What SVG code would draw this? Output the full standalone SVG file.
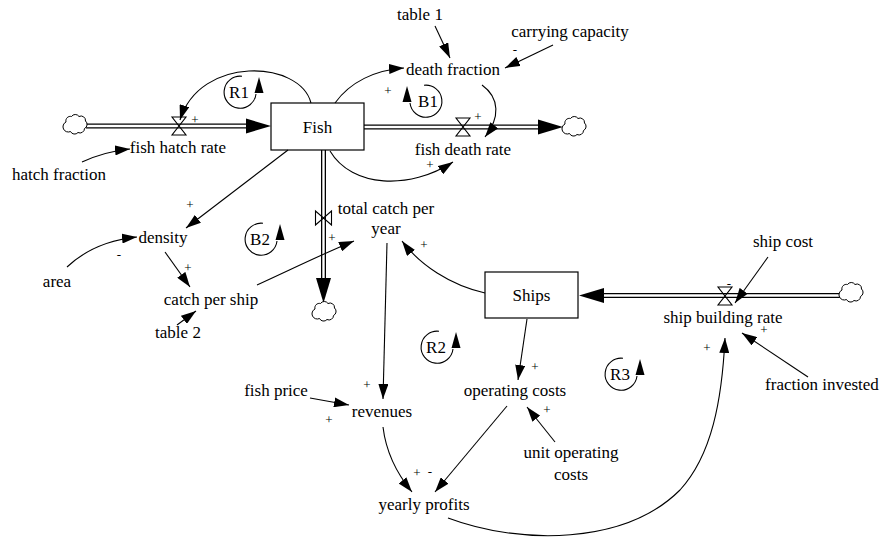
<svg xmlns="http://www.w3.org/2000/svg" width="882" height="540" viewBox="0 0 882 540" font-family="'Liberation Serif', 'DejaVu Serif', serif">
<style>
  .lbl { font-size: 17px; text-anchor: middle; }
  .pol { font-size: 13px; text-anchor: middle; }
  .lp { font-size: 17px; text-anchor: middle; }
  .link { fill: none; stroke: #000; stroke-width: 1.1; marker-end: url(#arr); }
  .box { fill: #fff; stroke: #000; stroke-width: 1.2; }
  .pipeO { stroke: #000; stroke-width: 5; fill: none; }
  .pipeI { stroke: #fff; stroke-width: 2.4; fill: none; }
  .valve { fill: none; stroke: #000; stroke-width: 1.1; }
  .cloud { fill: #fff; stroke: #000; stroke-width: 1; }
  .arc { fill: none; stroke: #000; stroke-width: 1.1; }
</style>
<defs>
  <marker id="arr" markerUnits="userSpaceOnUse" markerWidth="15" markerHeight="10" viewBox="0 0 15 10" refX="15" refY="5" orient="auto">
    <path d="M0,0 L15,5 L0,10 z" fill="#000"/>
  </marker>
  <path id="cloud" class="cloud" d="M-10,-3 a4.5,4.5 0 0 1 5.5,-5.5 a4.5,4.5 0 0 1 7.5,0 a4.5,4.5 0 0 1 6.5,4.5 a4.5,4.5 0 0 1 -1,7.5 a4.5,4.5 0 0 1 -6.5,4 a4.5,4.5 0 0 1 -7.5,-1 a4.5,4.5 0 0 1 -4.5,-9.5 z"/>
  <path id="valveV" class="valve" d="M-7,-9 L7,-9 L-7,9 L7,9 Z"/>
  <path id="valveH" class="valve" d="M-8,-7 L-8,7 L8,-7 L8,7 Z"/>
  <g id="loopR">
    <path class="arc" d="M3,-15.7 A16,16 0 1 0 17,2"/>
    <path d="M20,-15 L24.5,1 L15.5,1 z" fill="#000"/>
  </g>
</defs>

<!-- flows (pipes) -->
<g id="flows">
  <line class="pipeO" x1="86" y1="126" x2="250" y2="126"/>
  <line class="pipeI" x1="86" y1="126" x2="250" y2="126"/>
  <path d="M271,126 L246,118.5 L246,133.5 z" fill="#000"/>

  <line class="pipeO" x1="364" y1="127" x2="540" y2="127"/>
  <line class="pipeI" x1="364" y1="127" x2="540" y2="127"/>
  <path d="M563,127 L538,119.5 L538,134.5 z" fill="#000"/>

  <line class="pipeO" x1="323.5" y1="150" x2="323.5" y2="281"/>
  <line class="pipeI" x1="323.5" y1="150" x2="323.5" y2="281"/>
  <path d="M323.5,303 L316,278 L331,278 z" fill="#000"/>

  <line class="pipeO" x1="841" y1="295.5" x2="602" y2="295.5"/>
  <line class="pipeI" x1="841" y1="295.5" x2="602" y2="295.5"/>
  <path d="M579,295.5 L604,288 L604,303 z" fill="#000"/>

  <use href="#cloud" x="76" y="125"/>
  <use href="#cloud" x="575" y="127"/>
  <use href="#cloud" x="325" y="312"/>
  <use href="#cloud" x="852" y="293"/>
</g>

<!-- stocks -->
<g id="Fish">
  <rect class="box" x="271" y="103" width="93" height="47"/>
  <text class="lbl" x="317.5" y="133" font-family="Liberation Serif">Fish</text>
</g>
<g id="Ships">
  <rect class="box" x="485" y="272" width="93" height="46"/>
  <text class="lbl" x="531.5" y="301">Ships</text>
</g>

<!-- rates -->
<g id="fish-hatch-rate">
  <use href="#valveV" x="179" y="126"/>
  <text class="lbl" x="178" y="153">fish hatch rate</text>
</g>
<g id="fish-death-rate">
  <use href="#valveV" x="463" y="127"/>
  <text class="lbl" x="463" y="155">fish death rate</text>
</g>
<g id="total-catch-per-year">
  <use href="#valveH" x="323.5" y="218"/>
  <text class="lbl" x="386" y="214">total catch per</text>
  <text class="lbl" x="386" y="234">year</text>
</g>
<g id="ship-building-rate">
  <use href="#valveV" x="725" y="296"/>
  <text class="lbl" x="723" y="323">ship building rate</text>
</g>

<!-- auxiliaries -->
<g id="hatch-fraction"><text class="lbl" x="59" y="180">hatch fraction</text></g>
<g id="death-fraction"><text class="lbl" x="453" y="75">death fraction</text></g>
<g id="table-1"><text class="lbl" x="420" y="20">table 1</text></g>
<g id="carrying-capacity"><text class="lbl" x="570" y="37">carrying capacity</text></g>
<g id="density"><text class="lbl" x="163" y="243">density</text></g>
<g id="area"><text class="lbl" x="57" y="287">area</text></g>
<g id="catch-per-ship"><text class="lbl" x="211" y="305">catch per ship</text></g>
<g id="table-2"><text class="lbl" x="178" y="338">table 2</text></g>
<g id="ship-cost"><text class="lbl" x="783" y="247">ship cost</text></g>
<g id="fraction-invested"><text class="lbl" x="822" y="390">fraction invested</text></g>
<g id="fish-price"><text class="lbl" x="276" y="396">fish price</text></g>
<g id="revenues"><text class="lbl" x="382" y="417">revenues</text></g>
<g id="operating-costs"><text class="lbl" x="515" y="396">operating costs</text></g>
<g id="unit-operating-costs">
  <text class="lbl" x="571" y="458">unit operating</text>
  <text class="lbl" x="571" y="480">costs</text>
</g>
<g id="yearly-profits"><text class="lbl" x="424" y="510">yearly profits</text></g>

<!-- connectors -->
<g id="connectors">
  <path class="link" d="M311,103 C300,60 200,55 180,120"/>
  <path class="link" d="M82,162 C95,156 110,151 130,149"/>
  <path class="link" d="M335,103 C350,82 375,70 404,68"/>
  <path class="link" d="M435,26 L450,58"/>
  <path class="link" d="M553,45 L505,68"/>
  <path class="link" d="M482,85 C500,98 500,118 485,137"/>
  <path class="link" d="M330,151 C352,188 410,190 453,162"/>
  <path class="link" d="M288,150 L186,228"/>
  <path class="link" d="M67,267 C85,250 108,240 137,237"/>
  <path class="link" d="M165,252 L190,287"/>
  <path class="link" d="M177,325 L196,311"/>
  <path class="link" d="M257,285 C290,270 320,255 354,241"/>
  <path class="link" d="M485,293 C450,285 420,265 402,241"/>
  <path class="link" d="M387,243 L383,399"/>
  <path class="link" d="M310,398 L349,405"/>
  <path class="link" d="M527,319 L518,380"/>
  <path class="link" d="M555,442 L527,407"/>
  <path class="link" d="M383,427 C386,452 398,475 412,492"/>
  <path class="link" d="M507,406 L435,492"/>
  <path class="link" d="M448,518 C520,545 625,545 680,490 C712,455 722,400 725,338"/>
  <path class="link" d="M768,257 L735,303"/>
  <path class="link" d="M808,377 L742,333"/>
</g>

<!-- polarities -->
<g id="polarities">
  <text class="pol" x="195" y="124">+</text>
  <text class="pol" x="388" y="95">+</text>
  <text class="pol" x="515" y="54">-</text>
  <text class="pol" x="478" y="121">+</text>
  <text class="pol" x="430" y="169">+</text>
  <text class="pol" x="190" y="209">+</text>
  <text class="pol" x="119" y="259">-</text>
  <text class="pol" x="188" y="272">+</text>
  <text class="pol" x="332" y="242">+</text>
  <text class="pol" x="424" y="249">+</text>
  <text class="pol" x="367" y="389">+</text>
  <text class="pol" x="329" y="424">+</text>
  <text class="pol" x="535" y="371">+</text>
  <text class="pol" x="547" y="414">+</text>
  <text class="pol" x="417" y="477">+</text>
  <text class="pol" x="430" y="476">-</text>
  <text class="pol" x="729" y="288">-</text>
  <text class="pol" x="764" y="334">+</text>
  <text class="pol" x="707" y="352">+</text>
</g>

<!-- loop markers -->
<g id="loop-R1"><use href="#loopR" x="239" y="92"/><text class="lp" x="239" y="98">R1</text></g>
<g id="loop-B1"><use href="#loopR" transform="translate(427,101) scale(-1,1)"/><text class="lp" x="428" y="107">B1</text></g>
<g id="loop-B2"><use href="#loopR" x="260" y="239"/><text class="lp" x="260" y="245">B2</text></g>
<g id="loop-R2"><use href="#loopR" x="436" y="347"/><text class="lp" x="436" y="353">R2</text></g>
<g id="loop-R3"><use href="#loopR" x="620" y="374"/><text class="lp" x="620" y="380">R3</text></g>
</svg>
